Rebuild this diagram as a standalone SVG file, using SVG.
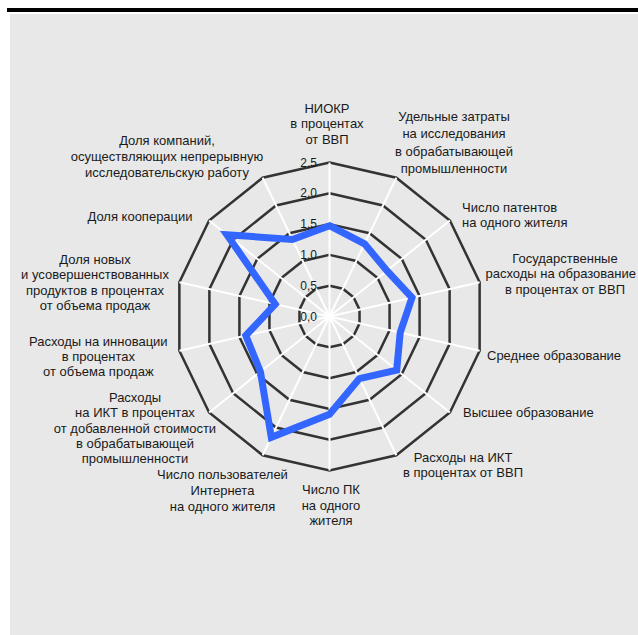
<svg xmlns="http://www.w3.org/2000/svg" width="638" height="635" viewBox="0 0 638 635">
<style>
.ring{fill:none;stroke:#333333;stroke-width:2.5;stroke-linejoin:miter}
.spoke{stroke:#ffffff;stroke-width:2}
.data{fill:none;stroke:#3366ff;stroke-width:7;stroke-linejoin:miter;stroke-miterlimit:4}
text{font-family:"Liberation Sans",Arial,sans-serif;font-size:13px;fill:#1a1a1a}
.c{text-anchor:middle}
.e{text-anchor:end}
.tick{font-size:12px;text-anchor:end}
</style>
<rect x="0" y="0" width="638" height="635" fill="#ffffff"/>
<rect x="7" y="8" width="631" height="4" fill="#000000"/>
<rect x="10" y="14" width="628" height="621" fill="#e8e8e8"/>
<g id="grid">
<polygon class="ring" points="329.5,285.7 342.86,288.75 353.58,297.3 359.53,309.65 359.53,323.35 353.58,335.7 342.86,344.25 329.5,347.3 316.14,344.25 305.42,335.7 299.47,323.35 299.47,309.65 305.42,297.3 316.14,288.75"/>
<polygon class="ring" points="329.5,254.9 356.23,261 377.66,278.09 389.56,302.79 389.56,330.21 377.66,354.91 356.23,372 329.5,378.1 302.77,372 281.34,354.91 269.44,330.21 269.44,302.79 281.34,278.09 302.77,261"/>
<polygon class="ring" points="329.5,224.1 369.59,233.25 401.74,258.89 419.58,295.94 419.58,337.06 401.74,374.11 369.59,399.75 329.5,408.9 289.41,399.75 257.26,374.11 239.42,337.06 239.42,295.94 257.26,258.89 289.41,233.25"/>
<polygon class="ring" points="329.5,193.3 382.95,205.5 425.82,239.69 449.61,289.09 449.61,343.91 425.82,393.31 382.95,427.5 329.5,439.7 276.05,427.5 233.18,393.31 209.39,343.91 209.39,289.09 233.18,239.69 276.05,205.5"/>
<polygon class="ring" points="329.5,162.5 396.32,177.75 449.9,220.48 479.64,282.23 479.64,350.77 449.9,412.52 396.32,455.25 329.5,470.5 262.68,455.25 209.1,412.52 179.36,350.77 179.36,282.23 209.1,220.48 262.68,177.75"/>
</g>
<g id="connectors">
<line class="spoke" x1="329.5" y1="316.5" x2="329.5" y2="162.5"/>
<line class="spoke" x1="329.5" y1="316.5" x2="396.32" y2="177.75"/>
<line class="spoke" x1="329.5" y1="316.5" x2="449.9" y2="220.48"/>
<line class="spoke" x1="329.5" y1="316.5" x2="479.64" y2="282.23"/>
<line class="spoke" x1="329.5" y1="316.5" x2="479.64" y2="350.77"/>
<line class="spoke" x1="329.5" y1="316.5" x2="449.9" y2="412.52"/>
<line class="spoke" x1="329.5" y1="316.5" x2="396.32" y2="455.25"/>
<line class="spoke" x1="329.5" y1="316.5" x2="329.5" y2="470.5"/>
<line class="spoke" x1="329.5" y1="316.5" x2="262.68" y2="455.25"/>
<line class="spoke" x1="329.5" y1="316.5" x2="209.1" y2="412.52"/>
<line class="spoke" x1="329.5" y1="316.5" x2="179.36" y2="350.77"/>
<line class="spoke" x1="329.5" y1="316.5" x2="179.36" y2="282.23"/>
<line class="spoke" x1="329.5" y1="316.5" x2="209.1" y2="220.48"/>
<line class="spoke" x1="329.5" y1="316.5" x2="262.68" y2="177.75"/>
</g>
<g id="ticks">
<text class="tick" x="317" y="320.5">0,0</text>
<text class="tick" x="317" y="289.7">0,5</text>
<text class="tick" x="317" y="258.9">1,0</text>
<text class="tick" x="317" y="228.1">1,5</text>
<text class="tick" x="317" y="197.3">2,0</text>
<text class="tick" x="317" y="166.5">2,5</text>
</g>
<g id="series">
<polygon class="data" points="329.5,225.7 364.5,243.8 386.9,270.7 412,297.7 400.2,332.6 396.7,370.1 359.4,378.6 329.5,414.3 271.3,437.3 260.4,371.6 245.8,335.6 275.2,304.1 226.9,234.7 292.4,239.5"/>
</g>
<g id="node-niokr">
<text class="c" x="327" y="112.5">НИОКР</text>
<text class="c" x="327" y="128.3">в процентах</text>
<text class="c" x="327" y="144">от ВВП</text>
</g>
<g id="node-udelnye">
<text class="c" x="454" y="120.5">Удельные затраты</text>
<text class="c" x="454" y="138">на исследования</text>
<text class="c" x="454" y="155.5">в обрабатывающей</text>
<text class="c" x="454" y="173">промышленности</text>
</g>
<g id="node-patenty">
<text x="462" y="211.7">Число патентов</text>
<text x="462" y="226.7">на одного жителя</text>
</g>
<g id="node-gos">
<text class="c" x="565" y="263.3">Государственные</text>
<text class="e" x="636" y="278.3">расходы на образование</text>
<text class="c" x="565" y="294">в процентах от ВВП</text>
</g>
<g id="node-srednee">
<text x="487" y="360">Среднее образование</text>
</g>
<g id="node-vysshee">
<text x="463" y="416.7">Высшее образование</text>
</g>
<g id="node-ikt">
<text class="c" x="463" y="461.7">Расходы на ИКТ</text>
<text class="c" x="463" y="476.5">в процентах от ВВП</text>
</g>
<g id="node-pk">
<text class="c" x="331" y="494">Число ПК</text>
<text class="c" x="331" y="509.5">на одного</text>
<text class="c" x="331" y="524.5">жителя</text>
</g>
<g id="node-internet">
<text class="c" x="222.5" y="479.3">Число пользователей</text>
<text class="c" x="222.5" y="495">Интернета</text>
<text class="c" x="222.5" y="510.7">на одного жителя</text>
</g>
<g id="node-ikt-dob">
<text class="c" x="135" y="401.7">Расходы</text>
<text class="c" x="135" y="416.7">на ИКТ в процентах</text>
<text class="c" x="135" y="432.5">от добавленной стоимости</text>
<text class="c" x="135" y="447.7">в обрабатывающей</text>
<text class="c" x="135" y="462.7">промышленности</text>
</g>
<g id="node-innov">
<text class="c" x="98.3" y="346">Расходы на инновации</text>
<text class="c" x="98.3" y="361">в процентах</text>
<text class="c" x="98.3" y="376">от объема продаж</text>
</g>
<g id="node-novye">
<text class="c" x="95" y="264">Доля новых</text>
<text class="c" x="95" y="279.3">и усовершенствованных</text>
<text class="c" x="95" y="295">продуктов в процентах</text>
<text class="c" x="95" y="310">от объема продаж</text>
</g>
<g id="node-koop">
<text class="c" x="140" y="220.7">Доля кооперации</text>
</g>
<g id="node-kompanii">
<text class="c" x="167" y="145">Доля компаний,</text>
<text class="c" x="167" y="160.7">осуществляющих непрерывную</text>
<text class="c" x="167" y="176.7">исследовательскую работу</text>
</g>
</svg>
